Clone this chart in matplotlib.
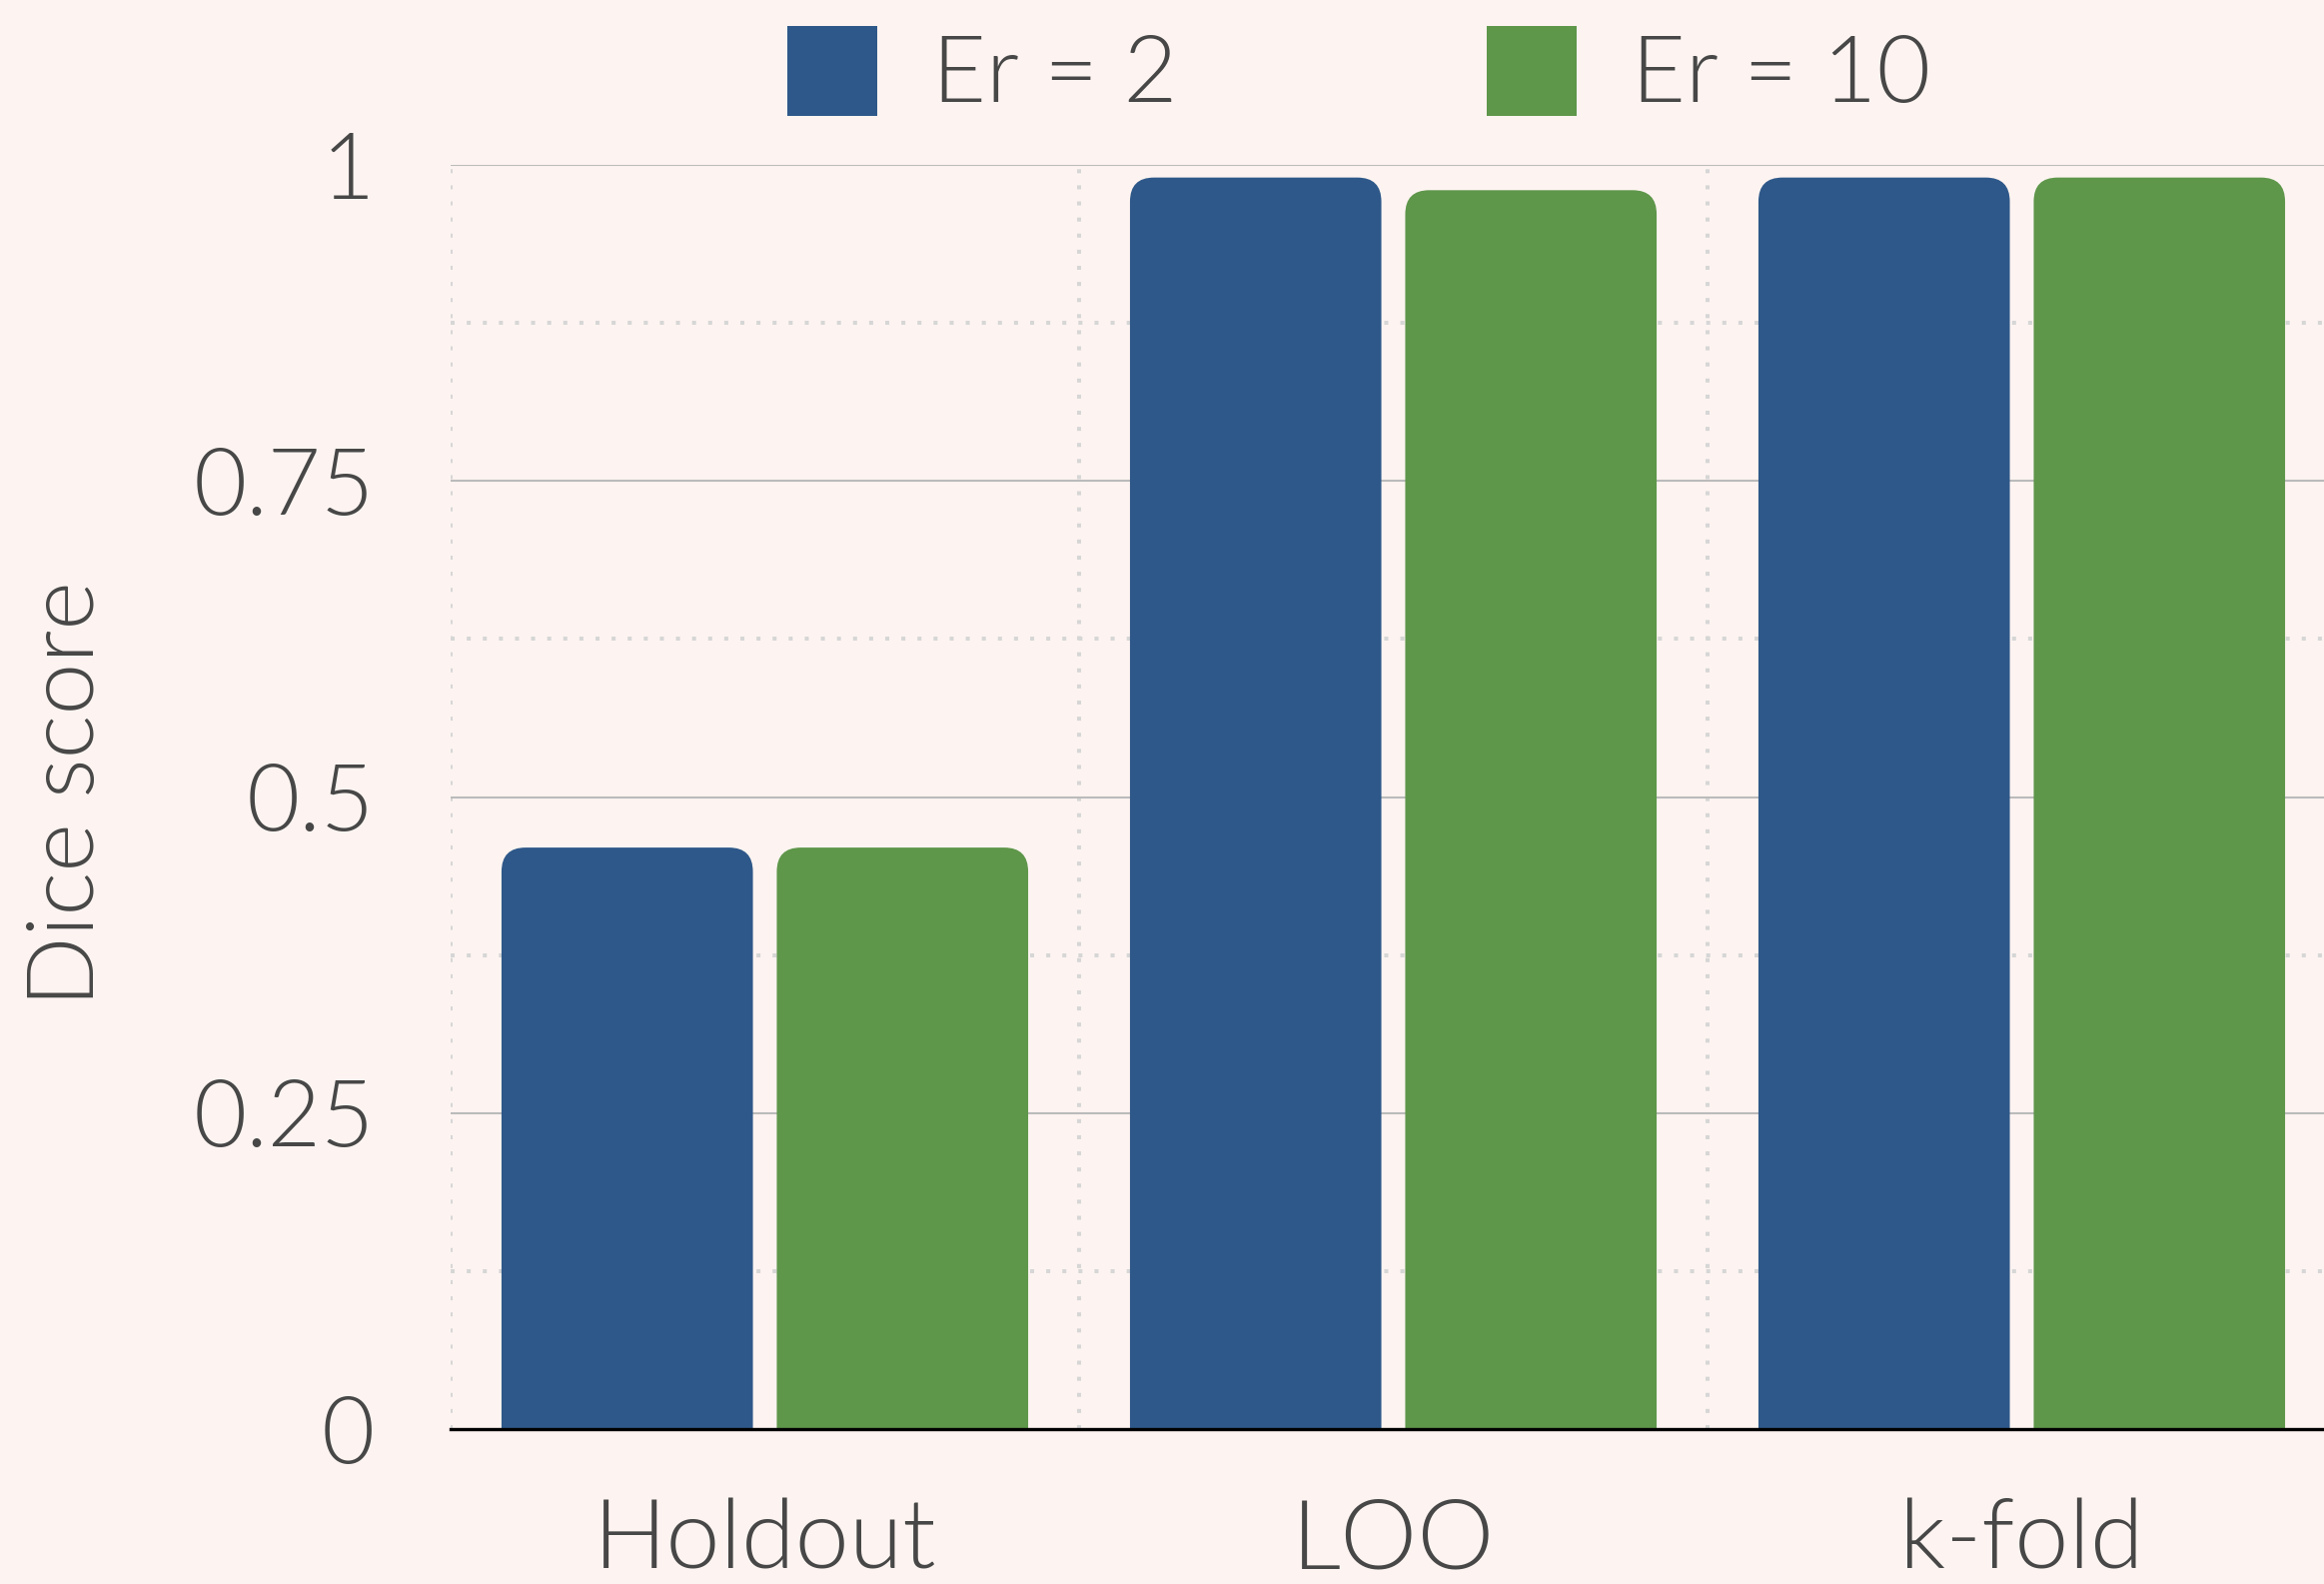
import matplotlib
matplotlib.use("Agg")
import matplotlib.pyplot as plt
from matplotlib.patches import FancyBboxPatch, Patch
import numpy as np

categories = ["Holdout", "LOO", "k-fold"]
series_names = ["Er = 2", "Er = 10"]
er2 = [0.46, 0.99, 0.99]
er10 = [0.46, 0.98, 0.99]
yticks = [0, 0.25, 0.5, 0.75, 1]
ytick_labels = ["0", "0.25", "0.5", "0.75", "1"]

colors = ["#2E5889", "#5E964A"]
bg = "#FDF4F1"
txt = "#474747"

plt.rcParams['font.family'] = ['Lato', 'DejaVu Sans']
plt.rcParams['font.weight'] = 300
plt.rcParams['axes.labelweight'] = 300

W, H = 2326, 1585
fig = plt.figure(figsize=(W/100, H/100), dpi=100, facecolor=bg)
ax = fig.add_axes([451/W, (H-1430)/H, (2338-451)/W, (1430-165)/H])
ax.set_facecolor(bg)

x = np.arange(len(categories))
bw = 0.40
off = 0.219
bars = []
for vals, c, o in zip([er2, er10], colors, [-off, off]):
    bc = ax.bar(x + o, vals, width=bw, color=c, zorder=3)
    bars.append(bc)

# replace with rounded-top bars
xpx = (2338-451)/3.0
ypx = (1430-165)
r_px = 24
rs = r_px/xpx
asp = (r_px/ypx)/rs
for bc in bars:
    for p in bc.patches:
        x0, w, h = p.get_x(), p.get_width(), p.get_height()
        fc = p.get_facecolor()
        p.set_visible(False)
        fb = FancyBboxPatch((x0, -0.1), w, h + 0.1,
                            boxstyle=f"round,pad=0,rounding_size={rs}",
                            mutation_aspect=asp, facecolor=fc, edgecolor='none',
                            zorder=3)
        ax.add_patch(fb)

ax.set_xlim(-0.5, 2.5)
ax.set_ylim(0, 1)

ax.set_yticks(yticks)
ax.set_yticklabels(ytick_labels)
ax.set_yticks([0.125, 0.375, 0.625, 0.875], minor=True)
ax.set_xticks(x)
ax.set_xticklabels(categories)
ax.set_xticks([-0.5, 0.5, 1.5], minor=True)

dot = (0, (1.0, 3.0))
ax.grid(axis='y', which='major', color='#BBBBBB', linewidth=1.5, zorder=0)
ax.grid(axis='y', which='minor', color='#D6D6D6', linewidth=2.9, linestyle=dot, zorder=0)
ax.grid(axis='x', which='minor', color='#D6D6D6', linewidth=2.9, linestyle=dot, zorder=0)
ax.grid(axis='x', which='major', visible=False)

for s in ['top', 'right', 'left']:
    ax.spines[s].set_visible(False)
ax.spines['bottom'].set_color('black')
ax.spines['bottom'].set_linewidth(2.4)
ax.spines['bottom'].set_zorder(4)

ax.tick_params(axis='both', which='both', length=0)
ax.tick_params(axis='y', labelsize=66, labelcolor=txt, pad=55)
ax.tick_params(axis='x', labelsize=70, labelcolor=txt, pad=50)
for lab in ax.get_xticklabels() + ax.get_yticklabels():
    lab.set_fontweight(300)

ax.set_ylabel("Dice score", fontsize=67, color=txt, fontweight=300)
ax.yaxis.set_label_coords(-(451-68)/(2338-451), 1 - (794-165)/(1430-165))
ax.yaxis.label.set_va('center')

handles = [Patch(facecolor=c, edgecolor='none') for c in colors]
fs_pt = 67
fs_px = fs_pt*100/72
leg = fig.legend(handles, series_names, loc='center left',
                 bbox_to_anchor=(788/W, 1-72/H), ncol=2, frameon=False,
                 prop={'size': fs_pt, 'weight': 300},
                 handlelength=90/fs_px, handleheight=90/fs_px/0.86,
                 handletextpad=(936-881)/fs_px, columnspacing=(1491-1176-5)/fs_px,
                 borderpad=0, borderaxespad=0)
for t in leg.get_texts():
    t.set_color(txt)

fig.savefig("out.png", dpi=100, facecolor=bg)
